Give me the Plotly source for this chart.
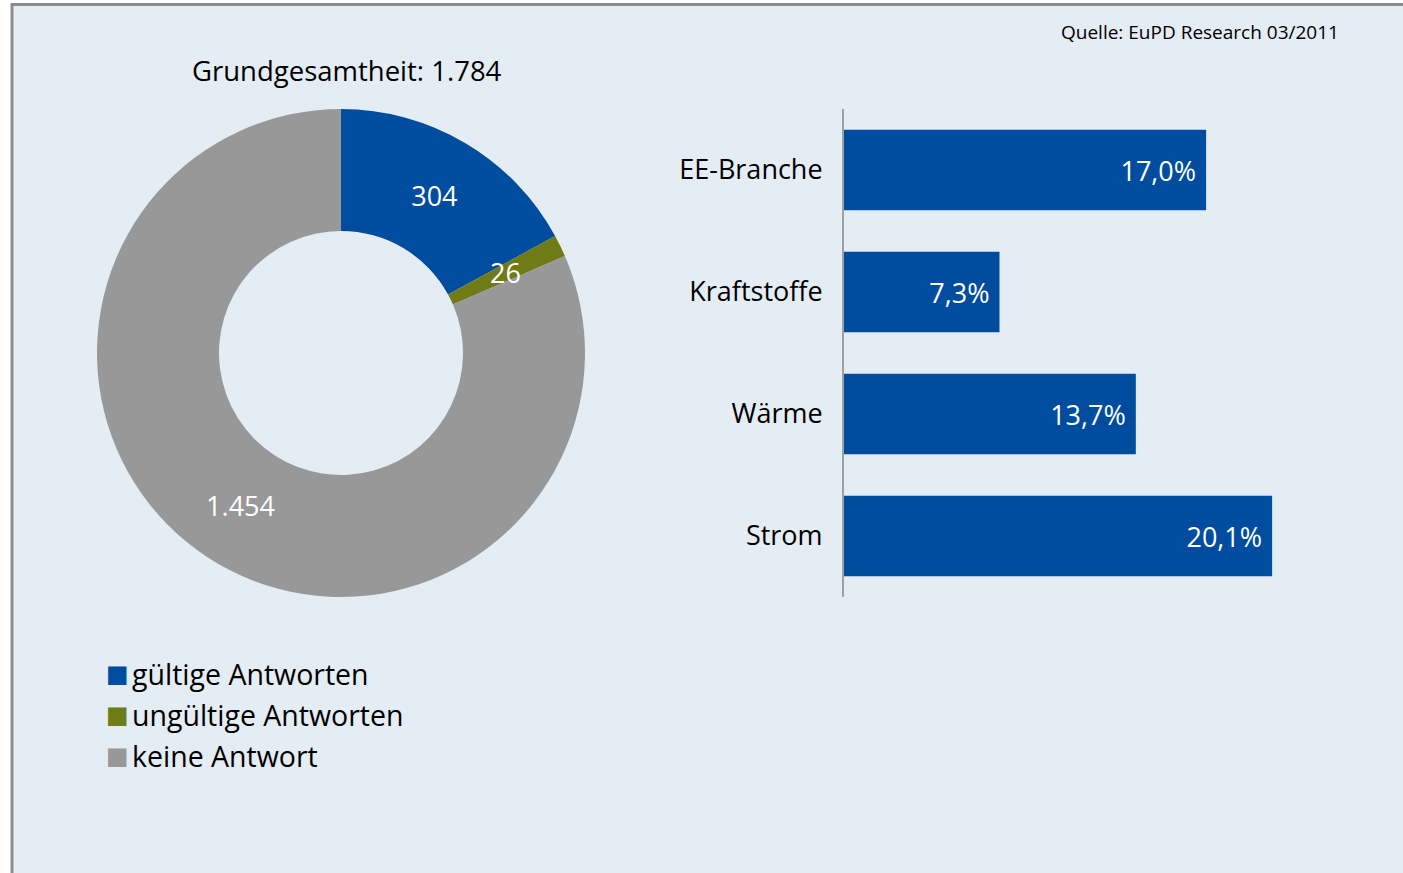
import math
import plotly.graph_objects as go

W, H = 1403, 873

# ---- data ----
pie_labels = ["gültige Antworten", "ungültige Antworten", "keine Antwort"]
pie_values = [304, 26, 1454]
pie_colors = ["#004C9E", "#6E7B16", "#989898"]

bar_categories = ["EE-Branche", "Kraftstoffe", "Wärme", "Strom"]
bar_values = [17.0, 7.3, 13.7, 20.1]
bar_color = "#004C9E"

source_text = "Quelle: EuPD Research 03/2011"
total = sum(pie_values)
title_text = "Grundgesamtheit: " + f"{total:,}".replace(",", ".")

FONT = "Open Sans"
BG = "#E4ECF4"


def px_x(p):
    return p / W


def px_y(p):
    return 1 - p / H


def de_num(v):
    return f"{v:,}".replace(",", ".")


# donut geometry (pixels)
PIE_L, PIE_R, PIE_T, PIE_B = 97, 585, 109, 597
HOLE = 0.5
cx, cy = (PIE_L + PIE_R) / 2, (PIE_T + PIE_B) / 2
r_out = (PIE_R - PIE_L) / 2
r_mid = r_out * (1 + HOLE) / 2

# slices too thin for inside text get an annotation at mid-ring
MIN_SHARE = 0.05
templates = []
extra_ann = []
cum = 0
for lab, v in zip(pie_labels, pie_values):
    share = v / total
    if share < MIN_SHARE:
        templates.append("")
        theta = 2 * math.pi * (cum + v / 2) / total
        extra_ann.append(dict(
            text=de_num(v), xref="paper", yref="paper",
            x=px_x(cx + r_mid * math.sin(theta)),
            y=px_y(cy - r_mid * math.cos(theta)),
            xanchor="center", yanchor="middle", showarrow=False,
            font=dict(size=27, family=FONT, color="white"),
        ))
    else:
        templates.append("%{value:,}")
    cum += v

fig = go.Figure()

fig.add_trace(go.Pie(
    labels=pie_labels,
    values=pie_values,
    marker=dict(colors=pie_colors, line=dict(width=0)),
    hole=HOLE,
    sort=False,
    direction="clockwise",
    rotation=0,
    texttemplate=templates,
    textposition="inside",
    insidetextorientation="horizontal",
    textfont=dict(color="white", size=27, family=FONT),
    domain=dict(x=[px_x(PIE_L), px_x(PIE_R)], y=[px_y(PIE_B), px_y(PIE_T)]),
    showlegend=False,
    hoverinfo="label+value",
))

fig.add_trace(go.Bar(
    y=bar_categories,
    x=bar_values,
    orientation="h",
    marker=dict(color=bar_color, line=dict(width=0)),
    width=0.66,
    texttemplate="%{x:.1f}%\u00a0",
    textposition="inside",
    insidetextanchor="end",
    textfont=dict(color="white", size=27, family=FONT),
    showlegend=False,
    xaxis="x",
    yaxis="y",
))

# legend built from the pie labels / colours
legend_ann = []
for i, (lab, col) in enumerate(zip(pie_labels, pie_colors)):
    ypx = 674 + 41 * i
    legend_ann.append(dict(
        text="■", xref="paper", yref="paper",
        x=px_x(104), y=px_y(ypx), xanchor="left", yanchor="middle",
        showarrow=False, font=dict(size=24, family="DejaVu Sans", color=col),
    ))
    legend_ann.append(dict(
        text=lab, xref="paper", yref="paper",
        x=px_x(130), y=px_y(ypx), xanchor="left", yanchor="middle",
        showarrow=False, font=dict(size=28.5, family=FONT, color="black"),
    ))

fig.update_layout(
    width=W,
    height=H,
    margin=dict(l=0, r=0, t=0, b=0),
    paper_bgcolor="white",
    plot_bgcolor="rgba(0,0,0,0)",
    separators=",.",
    font=dict(family=FONT, color="black", size=27),
    showlegend=False,
    xaxis=dict(
        domain=[px_x(844), px_x(1390)],
        range=[0, 546 / 21.3],
        showgrid=False, zeroline=False, showticklabels=False, showline=False,
        fixedrange=True,
    ),
    yaxis=dict(
        domain=[px_y(597), px_y(109)],
        autorange="reversed",
        showgrid=False, zeroline=False,
        showline=True, linecolor="#A0A0A0", linewidth=2,
        ticks="", ticklabelstandoff=14,
        tickfont=dict(size=27, family=FONT, color="black"),
        fixedrange=True,
    ),
    shapes=[dict(
        type="rect", xref="paper", yref="paper",
        x0=px_x(12), x1=1.02, y0=-0.02, y1=px_y(4.5),
        fillcolor=BG, line=dict(color="#8C8C8C", width=3),
        layer="below",
    )],
    annotations=[
        dict(text=title_text, xref="paper", yref="paper",
             x=px_x(347), y=px_y(70), xanchor="center", yanchor="middle",
             showarrow=False, font=dict(size=27.5, family=FONT, color="black")),
        dict(text=source_text, xref="paper", yref="paper",
             x=px_x(1341), y=px_y(32), xanchor="right", yanchor="middle",
             showarrow=False, font=dict(size=19, family=FONT, color="black")),
    ] + extra_ann + legend_ann,
)

fig.write_html(
    "out.html",
    config={"displayModeBar": False},
    post_script="document.body.style.margin='0';document.body.style.overflow='hidden';",
)
